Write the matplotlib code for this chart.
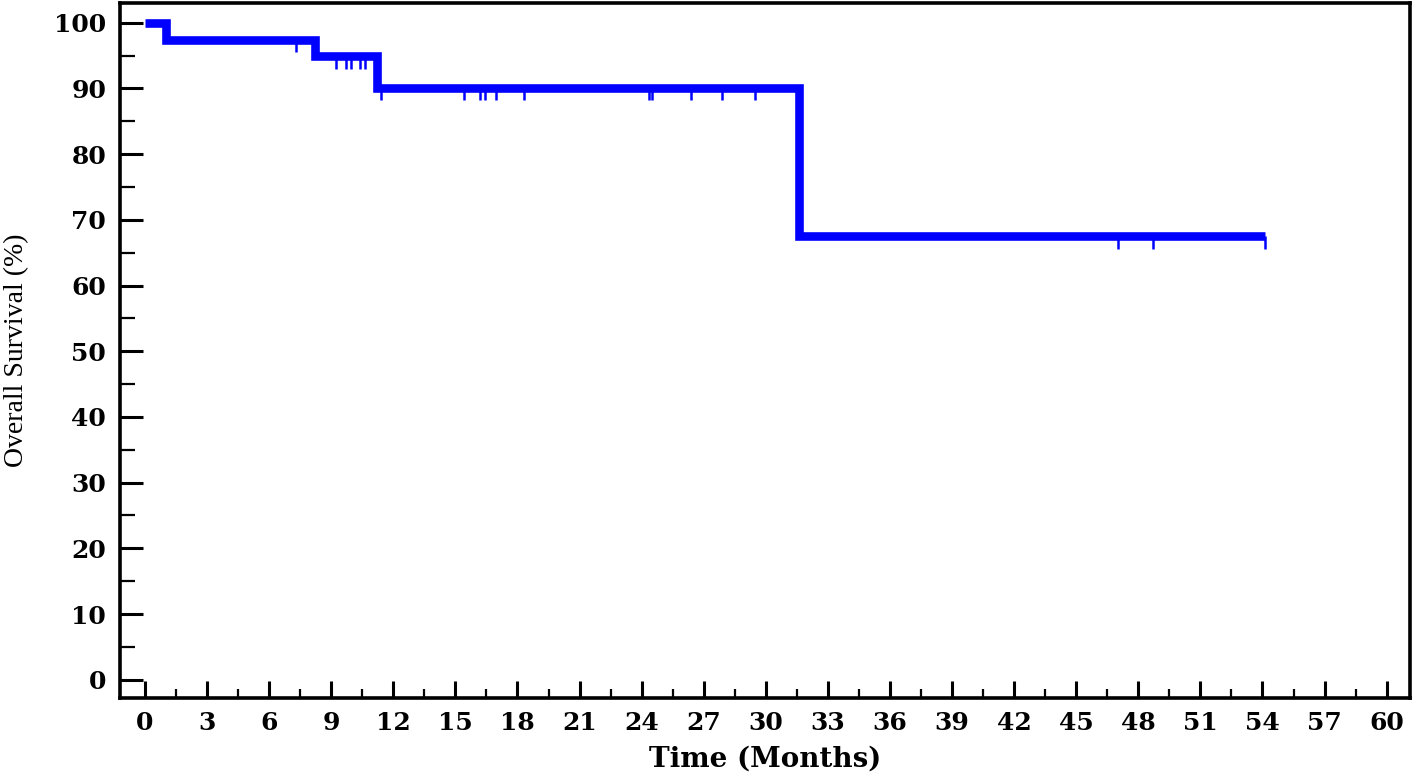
import numpy as np
from matplotlib import pyplot as plt
from matplotlib.ticker import MultipleLocator

# Kaplan-Meier steps (months, % surviving)
step_times = [0, 1.0, 8.2, 11.2, 31.6, 54.1]
step_surv = [100, 97.4, 94.9, 90.1, 67.5, 67.5]

# censored observations (months)
censor_times = [7.3, 9.25, 9.7, 9.95, 10.4, 10.65, 11.4,
                15.4, 16.2, 16.45, 16.95, 18.3, 24.35, 24.5,
                26.4, 27.9, 29.5, 47.0, 48.7, 54.1]

x_ticks = list(range(0, 61, 3))
y_ticks = list(range(0, 101, 10))

blue = '#0000ff'


def surv_at(t):
    idx = np.searchsorted(step_times, t, side='right') - 1
    return np.array(step_surv)[idx]


fig = plt.figure(figsize=(14.16, 7.82), dpi=100)
ax = fig.add_axes([0.0847, 0.1074, 0.9111, 0.8888])

ax.step(step_times, step_surv, where='post', color=blue, lw=6.2,
        solid_joinstyle='miter', solid_capstyle='butt')
levels = surv_at(np.array(censor_times))
ax.vlines(censor_times, levels, levels - 1.9, color=blue, lw=1.8)

ax.set_xlim(-1.21, 61.13)
ax.set_ylim(-2.78, 103.0)
ax.set_xticks(x_ticks)
ax.set_yticks(y_ticks)
ax.xaxis.set_minor_locator(MultipleLocator(1.5))
ax.yaxis.set_minor_locator(MultipleLocator(5))

ax.tick_params(axis='x', which='major', direction='in', length=12, width=2.2, pad=9)
ax.tick_params(axis='x', which='minor', direction='in', length=6.5, width=1.6)
ax.tick_params(axis='y', which='major', direction='in', length=16.5, width=2.2, pad=10)
ax.tick_params(axis='y', which='minor', direction='in', length=11, width=1.6)
ax.tick_params(top=False, right=False)

for lab in ax.get_xticklabels() + ax.get_yticklabels():
    lab.set_family('DejaVu Serif')
    lab.set_fontweight('bold')
    lab.set_fontsize(18)

for sp in ax.spines.values():
    sp.set_linewidth(2.6)

ax.set_xlabel('Time (Months)', family='DejaVu Serif', fontweight='bold',
              fontsize=20, labelpad=8)
ax.set_ylabel('Overall Survival (%)', family='Liberation Serif',
              fontsize=20, labelpad=18)

fig.savefig('out.png', dpi=100)
